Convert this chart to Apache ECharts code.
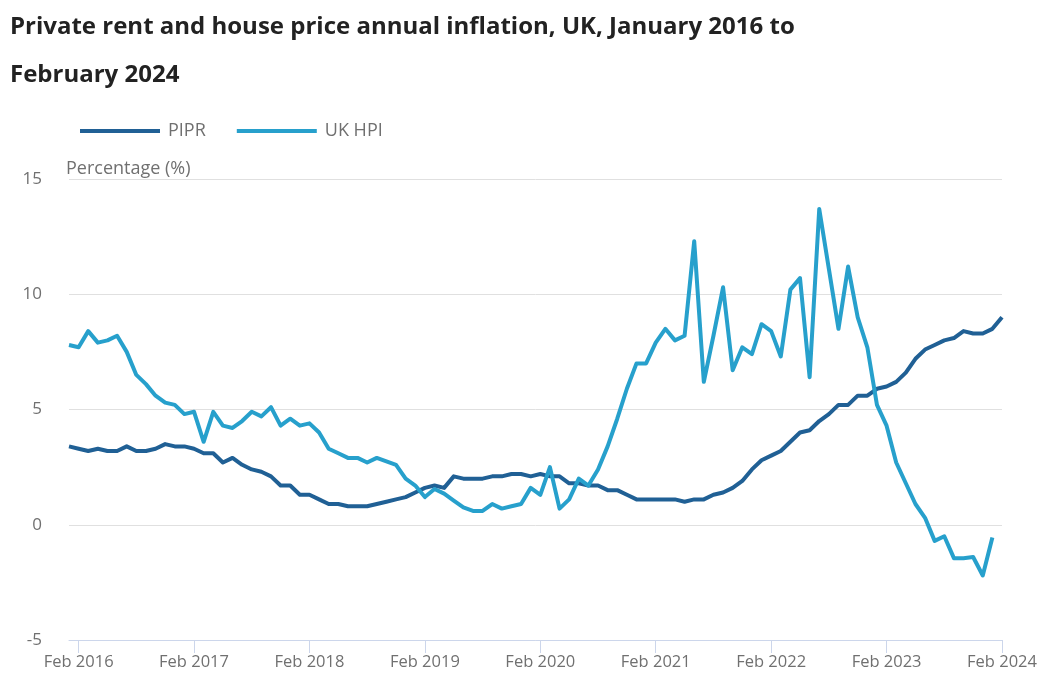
<!DOCTYPE html>
<html>
<head>
<meta charset="utf-8">
<script src="https://cdn.jsdelivr.net/npm/echarts@6/dist/echarts.min.js"></script>
<style>html,body{margin:0;padding:0;background:#fff}#c{width:1040px;height:693px}</style>
</head>
<body>
<div id="c"></div>
<script>
const months = ['Jan','Feb','Mar','Apr','May','Jun','Jul','Aug','Sep','Oct','Nov','Dec'];
const categories = [];
for (let y = 2016; y <= 2024; y++) {
  for (let m = 0; m < 12; m++) {
    if (y === 2024 && m > 1) break;
    categories.push(months[m] + ' ' + y);
  }
}
const pipr = [
  3.4, 3.3, 3.2, 3.3, 3.2, 3.2, 3.4, 3.2, 3.2, 3.3, 3.5, 3.4,
  3.4, 3.3, 3.1, 3.1, 2.7, 2.9, 2.6, 2.4, 2.3, 2.1, 1.7, 1.7,
  1.3, 1.3, 1.1, 0.9, 0.9, 0.8, 0.8, 0.8, 0.9, 1.0, 1.1, 1.2,
  1.4, 1.6, 1.7, 1.6, 2.1, 2.0, 2.0, 2.0, 2.1, 2.1, 2.2, 2.2,
  2.1, 2.2, 2.1, 2.1, 1.8, 1.8, 1.7, 1.7, 1.5, 1.5, 1.3, 1.1,
  1.1, 1.1, 1.1, 1.1, 1.0, 1.1, 1.1, 1.3, 1.4, 1.6, 1.9, 2.4,
  2.8, 3.0, 3.2, 3.6, 4.0, 4.1, 4.5, 4.8, 5.2, 5.2, 5.6, 5.6,
  5.9, 6.0, 6.2, 6.6, 7.2, 7.6, 7.8, 8.0, 8.1, 8.4, 8.3, 8.3,
  8.5, 9.0
];
const ukhpi = [
  7.8, 7.7, 8.4, 7.9, 8.0, 8.2, 7.5, 6.5, 6.1, 5.6, 5.3, 5.2,
  4.8, 4.9, 3.6, 4.9, 4.3, 4.2, 4.5, 4.9, 4.7, 5.1, 4.3, 4.6,
  4.3, 4.4, 4.0, 3.3, 3.1, 2.9, 2.9, 2.7, 2.9, 2.75, 2.6, 2.0,
  1.7, 1.2, 1.55, 1.35, 1.05, 0.75, 0.6, 0.6, 0.9, 0.7, 0.8, 0.9,
  1.6, 1.3, 2.5, 0.7, 1.1, 2.0, 1.7, 2.4, 3.4, 4.6, 5.9, 7.0,
  7.0, 7.9, 8.5, 8.0, 8.2, 12.3, 6.2, 8.2, 10.3, 6.7, 7.7, 7.4,
  8.7, 8.4, 7.3, 10.2, 10.7, 6.4, 13.7, 11.1, 8.5, 11.2, 9.0, 7.7,
  5.2, 4.3, 2.7, 1.8, 0.9, 0.3, -0.7, -0.5, -1.45, -1.45, -1.4, -2.2,
  -0.55, null
];
const yTicks = [-5, 0, 5, 10, 15];

const FONT = '"Open Sans", sans-serif';
const chart = echarts.init(document.getElementById('c'), null, {renderer: 'canvas'});
const isFeb = (i) => i % 12 === 1;
chart.setOption({
  animation: false,
  backgroundColor: '#ffffff',
  title: [
    {
      text: 'Private rent and house price annual inflation, UK, January 2016 to\nFebruary 2024',
      left: 10, top: 3, padding: 0,
      textStyle: {fontFamily: FONT, fontWeight: 'bold', fontSize: 24, color: '#222222', lineHeight: 48}
    },
    {
      text: 'Percentage (%)',
      left: 66, top: 158, padding: 0,
      textStyle: {fontFamily: FONT, fontWeight: 'normal', fontSize: 18, color: '#707070', lineHeight: 22}
    }
  ],
  legend: {
    left: 80, top: 120, padding: 0,
    itemWidth: 80, itemHeight: 4, itemGap: 31,
    icon: 'rect',
    textStyle: {fontFamily: FONT, fontSize: 18, color: '#707070', padding: [0, 0, 0, 3], lineHeight: 22},
    data: ['PIPR', 'UK HPI']
  },
  grid: {left: 69, right: 38, top: 179, bottom: 53, containLabel: false},
  xAxis: {
    type: 'category',
    data: categories,
    boundaryGap: false,
    axisLine: {onZero: false, lineStyle: {color: '#ccd6eb', width: 1}},
    axisTick: {show: true, length: 13, interval: isFeb, lineStyle: {color: '#ccd6eb'}},
    axisLabel: {
      interval: isFeb,
      fontFamily: FONT, fontSize: 16.5, color: '#707070', margin: 14
    },
    splitLine: {show: false}
  },
  yAxis: {
    type: 'value',
    min: yTicks[0], max: yTicks[yTicks.length - 1], interval: 5,
    axisLine: {show: false},
    axisTick: {show: false},
    axisLabel: {fontFamily: FONT, fontSize: 17, color: '#707070', margin: 27},
    splitLine: {lineStyle: {color: '#e0e0e0', width: 1}}
  },
  series: [
    {
      name: 'PIPR', type: 'line', data: pipr,
      symbol: 'none', color: '#206095',
      lineStyle: {width: 4, color: '#206095', join: 'round'}
    },
    {
      name: 'UK HPI', type: 'line', data: ukhpi,
      symbol: 'none', color: '#27a0cc',
      lineStyle: {width: 4, color: '#27a0cc', join: 'round'}
    }
  ]
});
</script>
</body>
</html>
